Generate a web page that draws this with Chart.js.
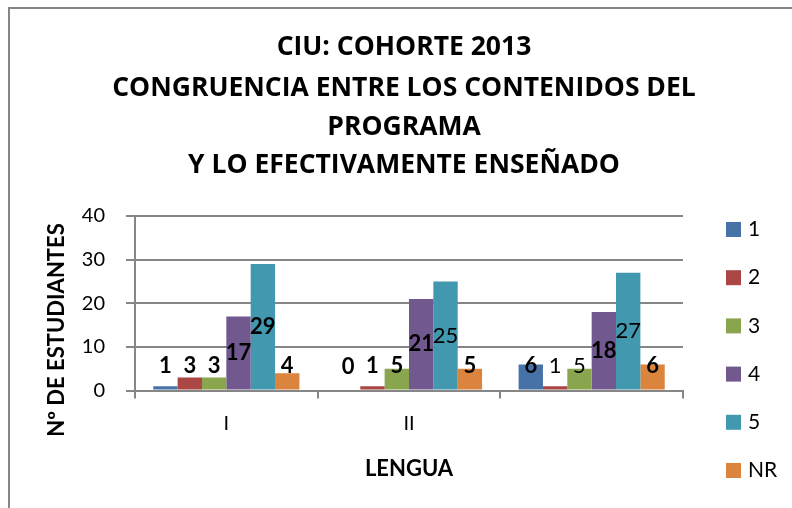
<!DOCTYPE html>
<html>
<head>
<meta charset="utf-8">
<script src="https://cdn.jsdelivr.net/npm/chart.js@4/dist/chart.umd.min.js"></script>
<style>
  html, body { margin: 0; padding: 0; background: #fff; }
  #wrap { position: relative; width: 792px; height: 508px; }
</style>
</head>
<body>
<div id="wrap"><canvas id="chart" width="792" height="508"></canvas></div>
<script>
// data
const categories = ['I', 'II', ''];
const seriesNames = ['1', '2', '3', '4', '5', 'NR'];
const serie1 = [1, 0, 6];
const serie2 = [3, 1, 1];
const serie3 = [3, 5, 5];
const serie4 = [17, 21, 18];
const serie5 = [29, 25, 27];
const serieNR = [4, 5, 6];
const yTicks = [0, 10, 20, 30, 40];

const titleLines = ['CIU: COHORTE 2013', 'CONGRUENCIA ENTRE LOS CONTENIDOS DEL', 'PROGRAMA', 'Y LO EFECTIVAMENTE ENSEÑADO'];

const colors = ['#4672A8', '#AA4643', '#89A54E', '#71588F', '#4198AF', '#DB843D'];
// which value labels are bold in the original
const labelBold = [
    [true, true, true],
    [true, true, false],
    [true, true, false],
    [true, true, true],
    [true, false, false],
    [true, true, true]
];
const FONT = "'Lato', sans-serif";

const allSeries = [serie1, serie2, serie3, serie4, serie5, serieNR];

const frameAndText = {
    id: 'frameAndText',
    beforeDraw(chart) {
        const ctx = chart.ctx;
        ctx.save();
        ctx.fillStyle = '#fff';
        ctx.fillRect(0, 0, chart.width, chart.height);
        ctx.strokeStyle = '#868686';
        ctx.lineWidth = 2;
        ctx.beginPath();
        ctx.moveTo(9, chart.height);
        ctx.lineTo(9, 8);
        ctx.lineTo(chart.width, 8);
        ctx.stroke();

        // title
        ctx.fillStyle = '#000';
        ctx.textAlign = 'center';
        ctx.textBaseline = 'middle';
        ctx.font = "bold 26.5px 'Open Sans', sans-serif";
        const ty = [47, 88, 127, 165];
        titleLines.forEach((t, i) => ctx.fillText(t, 404, ty[i]));
        ctx.restore();
    },
    afterDatasetsDraw(chart) {
        const ctx = chart.ctx;
        ctx.save();
        ctx.fillStyle = '#000';
        ctx.textAlign = 'center';
        ctx.textBaseline = 'middle';
        chart.data.datasets.forEach((ds, d) => {
            chart.getDatasetMeta(d).data.forEach((el, i) => {
                const center = (el.y + el.base) / 2;
                const y = Math.min(center, el.base - 24);
                ctx.font = (labelBold[d][i] ? 'bold ' : '') + '22px ' + FONT;
                ctx.fillText(String(ds.data[i]), el.x, y);
            });
        });
        // y axis title
        ctx.font = 'bold 22px ' + FONT;
        ctx.translate(57, 330);
        ctx.rotate(-Math.PI / 2);
        ctx.fillText('Nº DE ESTUDIANTES', 0, 0);
        ctx.restore();

        // legend
        ctx.save();
        ctx.font = '21px ' + FONT;
        ctx.textAlign = 'left';
        ctx.textBaseline = 'middle';
        chart.data.datasets.forEach((ds, d) => {
            const cy = 229.5 + d * 48.2;
            ctx.fillStyle = ds.backgroundColor;
            ctx.fillRect(726, cy - 7.5, 15, 15);
            ctx.fillStyle = '#000';
            ctx.fillText(ds.label, 748, cy);
        });
        ctx.restore();
    }
};

new Chart(document.getElementById('chart'), {
    type: 'bar',
    data: {
        labels: categories,
        datasets: seriesNames.map((name, k) => ({
            label: name,
            data: allSeries[k],
            backgroundColor: colors[k],
            borderWidth: 0,
            barPercentage: 1,
            categoryPercentage: 0.8
        }))
    },
    options: {
        responsive: false,
        animation: false,
        devicePixelRatio: 1,
        layout: { padding: { left: 0, right: 109, top: 216, bottom: 26 } },
        plugins: {
            legend: { display: false },
            tooltip: { enabled: false },
            title: { display: false }
        },
        scales: {
            x: {
                grid: { offset: true, drawOnChartArea: false, drawTicks: true, tickLength: 8, color: '#868686', lineWidth: 2 },
                border: { color: '#868686', width: 2 },
                ticks: { color: '#000', font: { family: FONT, size: 20 }, padding: 13 },
                title: { display: true, text: 'LENGUA', color: '#000', font: { family: FONT, size: 22, weight: 'bold' }, padding: { top: 7, bottom: 0 } }
            },
            y: {
                min: 0,
                max: 40,
                afterBuildTicks: (axis) => { axis.ticks = yTicks.map(v => ({ value: v })); },
                grid: { color: '#868686', lineWidth: 2, tickLength: 9 },
                border: { color: '#868686', width: 2 },
                ticks: { color: '#000', font: { family: FONT, size: 20 }, padding: 21 },
                afterFit: (axis) => { axis.width = 135; }
            }
        }
    },
    plugins: [frameAndText]
});
</script>
</body>
</html>
